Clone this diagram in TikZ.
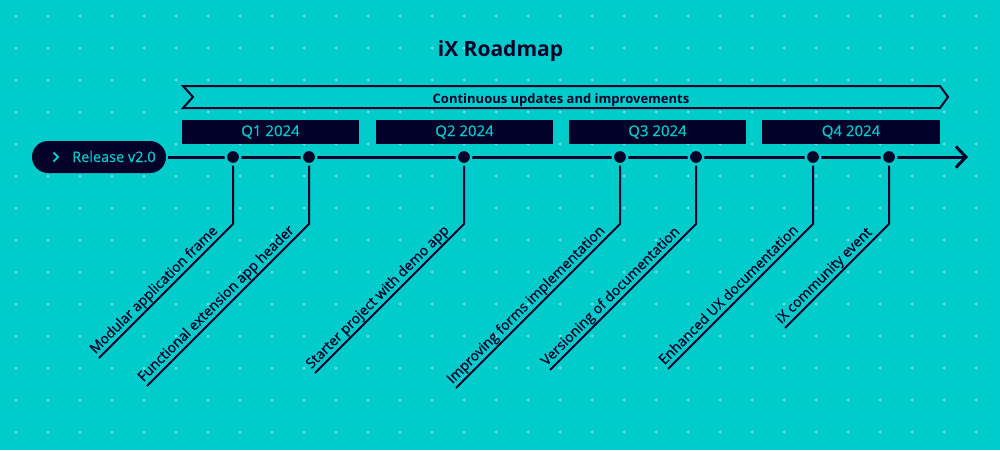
\documentclass[tikz,border=0pt]{standalone}
\usepackage{fontspec}
\setmainfont{Open Sans}
\newfontfamily\medfont[FakeBold=0.6]{Open Sans}
\usetikzlibrary{arrows.meta,calc}
\definecolor{bgc}{HTML}{00CCCC}
\definecolor{navy}{HTML}{000028}
\definecolor{griddot}{HTML}{7FE3E3}
\begin{document}
\begin{tikzpicture}[x=1pt,y=-1pt,
  quarter/.style={fill=navy, text=bgc, minimum width=177.5pt, minimum height=24pt, inner sep=0pt, font=\medfont\fontsize{15}{18}\selectfont},
  pill/.style={fill=navy, rounded corners=16pt, minimum width=134pt, minimum height=32pt, inner sep=0pt},
  tdot/.style={circle, fill=navy, draw=bgc, line width=2.5pt, minimum size=14.5pt, inner sep=0pt},
  conn/.style={draw=navy, line width=2pt},
  lab/.style={text=navy, font=\medfont\fontsize{14}{16}\selectfont, inner sep=0pt, anchor=base west, rotate=45},
]
\fill[bgc] (0,0) rectangle (1000,450);
\useasboundingbox (0,0) rectangle (1000,450);
\foreach \i in {0,...,30}
  \foreach \j in {0,...,13}
    \fill[griddot] (16+32*\i,16+32*\j) circle (1.5pt);

% title
\node[text=navy, font=\fontsize{21}{25}\selectfont\bfseries, anchor=base, inner sep=0pt] (title) at (500.5,56) {iX Roadmap};

% banner
\draw[navy, line width=2pt, line join=miter] (183,86) -- (940,86) -- (948,97) -- (940,108) -- (183,108) -- (193,97) -- cycle;
\node[text=navy, font=\fontsize{13}{15}\selectfont\bfseries, anchor=base, inner sep=0pt] (banner) at (561,103) {Continuous updates and improvements};

% quarters
\node[quarter] (q1) at (270.5,132) {Q1 2024};
\node[quarter] (q2) at (464.5,132) {Q2 2024};
\node[quarter] (q3) at (657.5,132) {Q3 2024};
\node[quarter] (q4) at (851,132) {Q4 2024};

% release pill
\node[pill] (release) at (99,157) {};
\draw[bgc, line width=2pt] (53.5,152.5) -- (58,157) -- (53.5,161.5);
\node[text=bgc, font=\medfont\fontsize{14.5}{17}\selectfont, anchor=base west, inner sep=0pt] (reltext) at (72,162) {Release v2.0};

% timeline
\coordinate (tip) at (968,157);
\draw[navy, line width=3pt, -{Straight Barb[length=10pt,width=21pt]}] ([xshift=2pt]release.east) -- (tip);

% milestones
\foreach \n/\x/\d/\t in {1/233/134/Modular application frame,
                         2/309/162/Functional extension app header,
                         3/464/149/Starter project with demo app,
                         4/620/164/Improving forms implementation,
                         5/696/146/Versioning of documentation,
                         6/813/145/Enhanced UX documentation,
                         7/889/104/iX community event}{
  \node[tdot] (t\n) at (\x,157) {};
  \coordinate (e\n) at (\x,224);
  \coordinate (l\n) at (\x-\d,224+\d);
  \draw[conn] (t\n.south) -- (e\n) -- (l\n);
  \node[lab] (lab\n) at ($(l\n)+(-3.6,-3.6)$) {\t};
}
\end{tikzpicture}
\end{document}
